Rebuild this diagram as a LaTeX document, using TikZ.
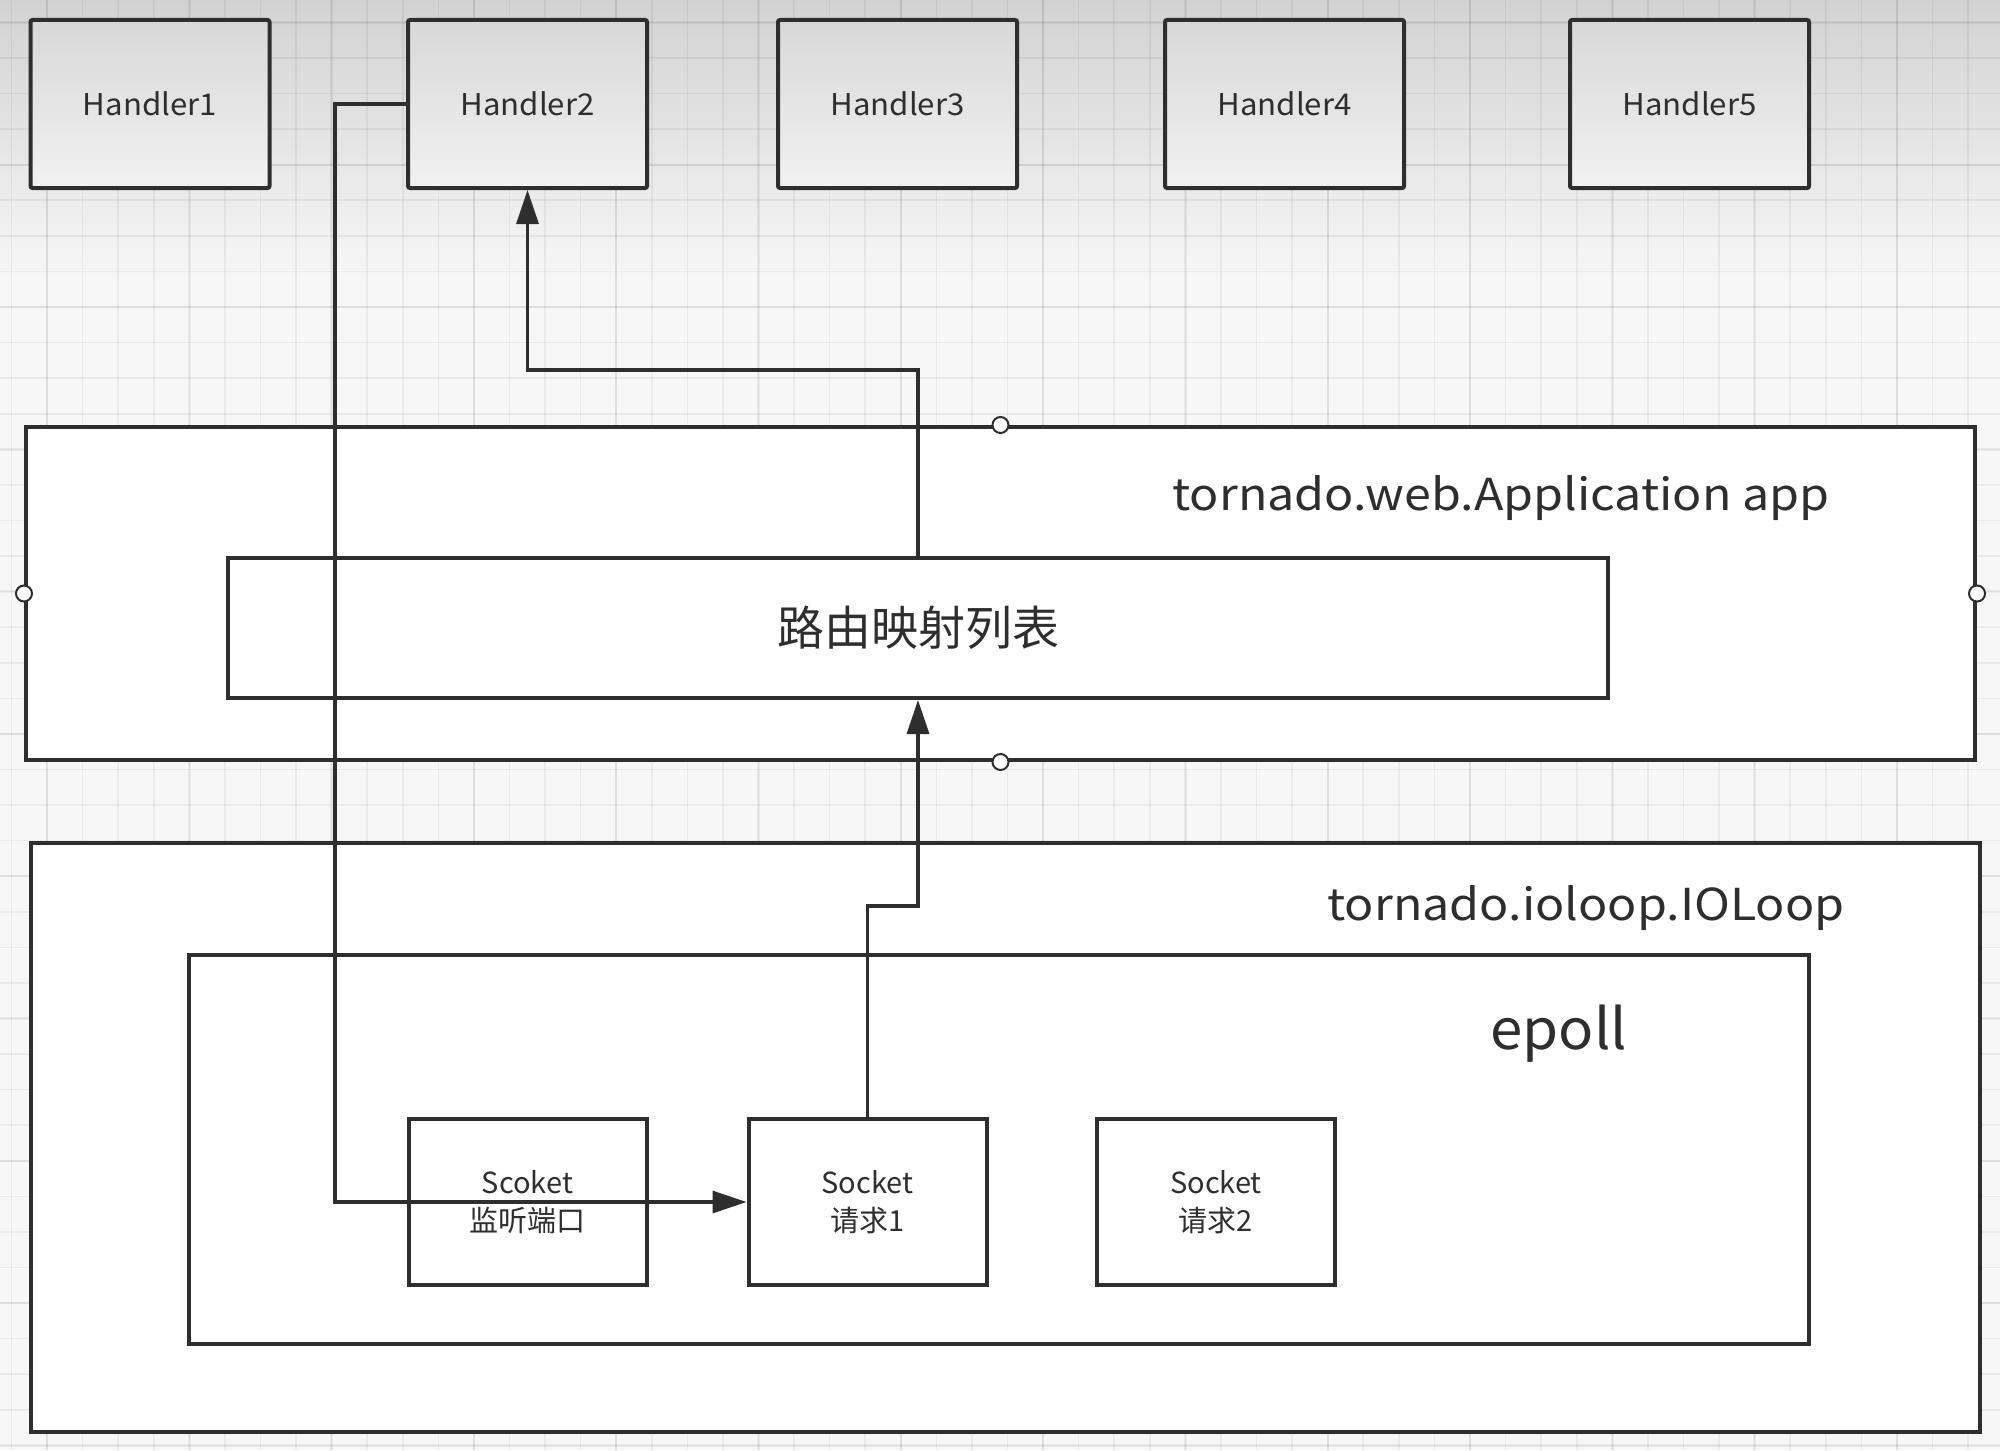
\documentclass[tikz,border=0pt]{standalone}
\usepackage{fontspec}
\setmainfont{Noto Sans CJK SC}
\newfontfamily\widefont[FakeStretch=1.1]{Noto Sans CJK SC}
\newfontfamily\semiwide[FakeStretch=1.04]{Noto Sans CJK SC}
\usetikzlibrary{arrows.meta,calc}
\definecolor{ink}{HTML}{2E2E2E}
\definecolor{bgc}{HTML}{F7F7F7}
\definecolor{bandtop}{HTML}{D2D2D2}
\definecolor{htop}{HTML}{D8D8D8}
\definecolor{hbot}{HTML}{F1F1F1}
\begin{document}
\begin{tikzpicture}[x=0.5pt,y=-0.5pt,
  hbox/.style={draw=ink, line width=2pt, minimum width=119.5pt, minimum height=84pt, inner sep=0pt,
    top color=htop, bottom color=hbot, text=ink, font=\semiwide\fontsize{15}{18}\selectfont, rounded corners=1pt},
  sbox/.style={draw=ink, line width=2pt, minimum width=119pt, minimum height=83pt, inner sep=0pt,
    fill=white, text=ink, align=center, font=\fontsize{14.5}{19}\selectfont},
  frame/.style={draw=ink, line width=2pt, fill=white, inner sep=0pt},
  title/.style={text=ink, inner sep=0pt, font=\widefont\fontsize{22}{26}\selectfont},
  handle/.style={circle, draw=ink, fill=white, line width=1pt, minimum size=8pt, inner sep=0pt},
  conn/.style={draw=ink, line width=1.6pt, rounded corners=0pt},
  tip/.style={-{Triangle[length=17pt,width=11pt]}}
]
\useasboundingbox (0,0) rectangle (2000,1450);
% background
\fill[bgc] (0,0) rectangle (2000,1450);
\shade[top color=bandtop, bottom color=bgc] (0,0) rectangle (2000,280);
% grid
\foreach \i in {-1,...,56} {
  \draw[black, opacity=0.05, line width=0.8pt] ({47+35.575*\i},0) -- ({47+35.575*\i},1450);
}
\foreach \i in {-1,...,41} {
  \draw[black, opacity=0.05, line width=0.8pt] (0,{22.4+35.575*\i}) -- (2000,{22.4+35.575*\i});
}
\foreach \i in {-1,...,14} {
  \draw[black, opacity=0.05, line width=1.2pt] ({47+142.3*\i},0) -- ({47+142.3*\i},1450);
}
\foreach \i in {-1,...,10} {
  \draw[black, opacity=0.05, line width=1.2pt] (0,{22.4+142.3*\i}) -- (2000,{22.4+142.3*\i});
}

% handlers
\node[hbox] (h1) at (150,104) {Handler1};
\node[hbox] (h2) at (527.5,104) {Handler2};
\node[hbox] (h3) at (897.5,104) {Handler3};
\node[hbox] (h4) at (1284.5,104) {Handler4};
\node[hbox] (h5) at (1689.5,104) {Handler5};

% application
\node[frame, minimum width=974.5pt, minimum height=166.5pt] (app) at (1000.5,593.5) {};
\node[title, anchor=base west] (apptitle) at (1172,510) {tornado.web.Application app};
\node[frame, minimum width=690pt, minimum height=70pt, text=ink, font=\fontsize{23.5}{26}\selectfont] (route) at (918,628) {路由映射列表};

% ioloop
\node[frame, minimum width=974.5pt, minimum height=294.5pt] (iol) at (1005.5,1137.5) {};
\node[title, anchor=base west] (ioltitle) at (1327,920) {tornado.ioloop.IOLoop};
\node[frame, minimum width=810pt, minimum height=194.5pt] (epoll) at (999,1149.5) {};
\node[text=ink, inner sep=0pt, anchor=base west, font=\semiwide\fontsize{28}{32}\selectfont] (epolltitle) at (1490,1049) {epoll};

% sockets
\node[sbox] (s1) at (527.5,1202) {Scoket\\监听端口};
\node[sbox] (s2) at (867.5,1202) {Socket\\请求1};
\node[sbox] (s3) at (1216,1202) {Socket\\请求2};

% connectors
\draw[conn, tip] (h2.west) -- ++(-71,0) |- (s2.west);
\draw[conn, tip] (s2.north) -- ++(0,-211) -| (route.south);
\draw[conn, tip] (route.north) -- ++(0,-186) -| (h2.south);

% selection handles
\node[handle] (hn) at (app.north) {};
\node[handle] (hs) at (app.south) {};
\node[handle] (hw) at (app.west) {};
\node[handle] (he) at (app.east) {};
\end{tikzpicture}
\end{document}
